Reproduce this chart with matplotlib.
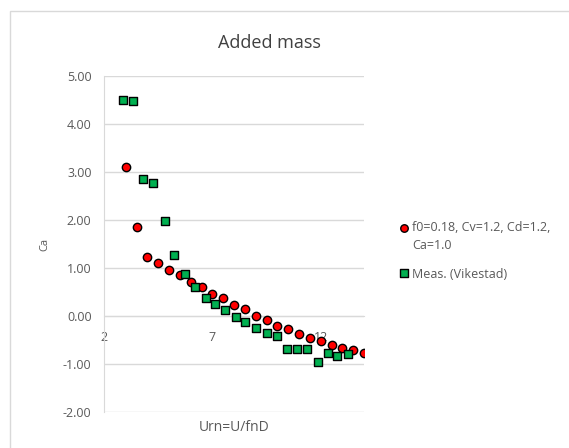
import matplotlib.pyplot as plt
from matplotlib.patches import Rectangle
from matplotlib.legend_handler import HandlerPathCollection

plt.rcParams['font.family'] = ['Open Sans', 'DejaVu Sans']

# model: f0=0.18, Cv=1.2, Cd=1.2, Ca=1.0
urn_model = [3.0, 3.5, 4.0, 4.5, 5.0, 5.5, 6.0, 6.5, 7.0, 7.5, 8.0, 8.5,
             9.0, 9.5, 10.0, 10.5, 11.0, 11.5, 12.0, 12.5, 13.0, 13.5, 14.0]
ca_model = [3.10, 1.86, 1.22, 1.11, 0.95, 0.86, 0.71, 0.61, 0.46, 0.37, 0.22, 0.14,
            0.01, -0.08, -0.20, -0.27, -0.37, -0.45, -0.53, -0.60, -0.66, -0.71, -0.78]

# measurements (Vikestad)
urn_meas = [2.89, 3.35, 3.81, 4.25, 4.83, 5.23, 5.72, 6.21, 6.69, 7.12, 7.57, 8.08,
            8.52, 9.00, 9.54, 9.98, 10.43, 10.92, 11.35, 11.88, 12.32, 12.77, 13.28]
ca_meas = [4.49, 4.47, 2.86, 2.78, 1.97, 1.27, 0.88, 0.61, 0.37, 0.25, 0.12, -0.03,
           -0.13, -0.25, -0.35, -0.41, -0.68, -0.68, -0.68, -0.95, -0.78, -0.84, -0.79]

yticks = [-2, -1, 0, 1, 2, 3, 4, 5]
xticks = [2, 7, 12]

W, H = 569, 448
fig = plt.figure(figsize=(W / 100, H / 100), dpi=100)

# chart frame
fig.patches.append(Rectangle((10 / W, -0.1), 1.2, 1 - 11 / H + 0.1,
                             transform=fig.transFigure, fill=False,
                             edgecolor='#d9d9d9', linewidth=1.0))

ax = fig.add_axes([104 / W, 1 - 412 / H, 260 / W, 336 / H])

grid_c = '#d9d9d9'
text_c = '#595959'

red = ax.scatter(urn_model, ca_model, s=36, marker='o', facecolor='#ff0000',
                 edgecolor='black', linewidth=1.0, zorder=3,
                 label='f0=0.18, Cv=1.2, Cd=1.2,\nCa=1.0')
green = ax.scatter(urn_meas, ca_meas, s=36, marker='s', facecolor='#00b050',
                   edgecolor='black', linewidth=1.0, zorder=3,
                   label='Meas. (Vikestad)')

ax.set_xlim(2, 14)
ax.set_ylim(-2, 5)
ax.set_yticks(yticks)
ax.set_yticklabels(['%.2f' % v for v in yticks])
ax.set_xticks(xticks)
ax.yaxis.grid(True, color=grid_c, linewidth=1.0)
ax.set_axisbelow(True)

for s in ['top', 'right']:
    ax.spines[s].set_visible(False)
ax.spines['left'].set_color(grid_c)
ax.spines['bottom'].set_position(('data', 0))
ax.spines['bottom'].set_color(grid_c)

ax.tick_params(axis='both', length=0, colors=text_c, labelsize=9)
ax.tick_params(axis='y', pad=9)
ax.tick_params(axis='x', pad=11)

ax.set_ylabel('Ca', fontsize=8, color=text_c, labelpad=9)
fig.text(234 / W, 1 - 427 / H, 'Urn=U/fnD', fontsize=10, color=text_c,
         ha='center', va='center')
fig.text(269 / W, 1 - 43 / H, 'Added mass', fontsize=13, color='#404040',
         ha='center', va='center')

leg = fig.legend(handles=[red, green], loc='upper left',
                 bbox_to_anchor=(393 / W, 1 - 216 / H),
                 frameon=False, fontsize=9, handletextpad=0.15,
                 handlelength=1.0, labelspacing=1.3, borderaxespad=0,
                 markerscale=0.9,
                 handler_map={red: HandlerPathCollection(yoffsets=[1.5]),
                              green: HandlerPathCollection(yoffsets=[0.5])})
for t in leg.get_texts():
    t.set_color(text_c)
    t.set_linespacing(1.45)

fig.savefig('out.png', dpi=100)
